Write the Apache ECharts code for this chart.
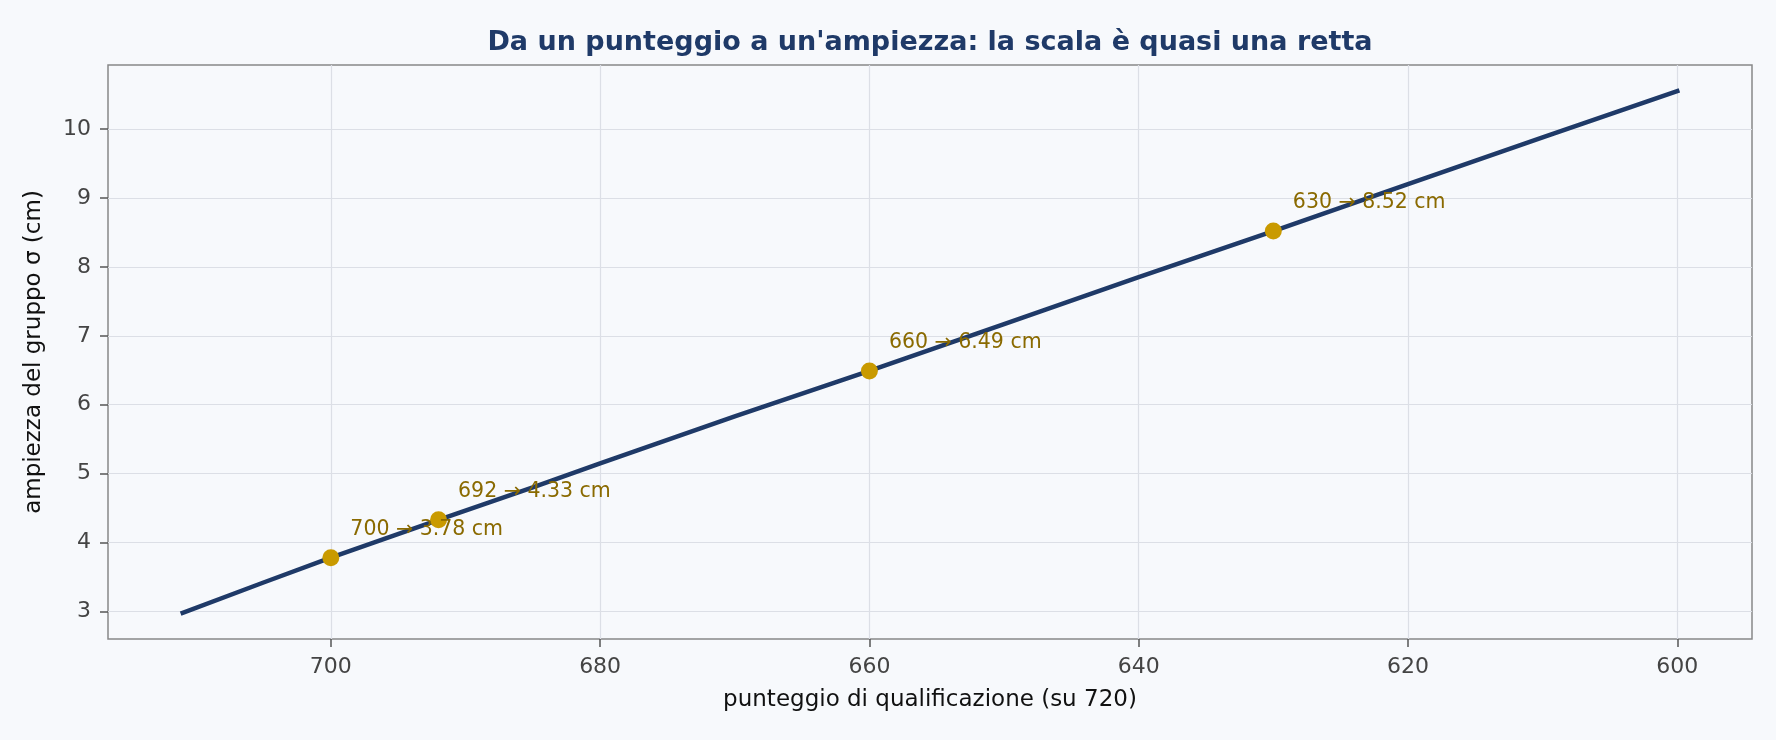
<!DOCTYPE html>
<html>
<head>
<meta charset="utf-8">
<script src="https://cdn.jsdelivr.net/npm/echarts@6/dist/echarts.min.js"></script>
<style>
  html, body { margin: 0; padding: 0; background: #f7f9fc; }
  #chart { width: 1776px; height: 740px; }
</style>
</head>
<body>
<div id="chart"></div>
<script>
// curve: qualification score -> group spread sigma (cm)
const lineScores = [711, 705, 700, 692, 685, 680, 670, 660, 650, 640, 630, 620, 610, 600];
const lineSigma = [2.98, 3.42, 3.78, 4.33, 4.80, 5.15, 5.83, 6.49, 7.17, 7.85, 8.52, 9.20, 9.88, 10.55];

// highlighted scores
const markScores = [700, 692, 660, 630];
const markSigma = [3.78, 4.33, 6.49, 8.52];

const xTicks = [700, 680, 660, 640, 620, 600];
const yTicks = [3, 4, 5, 6, 7, 8, 9, 10];

const font = 'DejaVu Sans';

const chart = echarts.init(document.getElementById('chart'));
let option = {
    backgroundColor: '#f7f9fc',
    animation: false,
    title: {
        text: "Da un punteggio a un'ampiezza: la scala è quasi una retta",
        left: 925,
        top: 24,
        textAlign: 'center',
        textStyle: { fontFamily: font, fontSize: 27, fontWeight: 'bold', color: '#1f3a68' }
    },
    grid: {
        left: 108, right: 24, top: 65, bottom: 101,
        show: true, borderColor: '#888', borderWidth: 1.5, backgroundColor: 'transparent'
    },
    xAxis: {
        type: 'value',
        inverse: true,
        min: 594.45,
        max: 716.55,
        minInterval: 20,
        maxInterval: 20,
        name: 'punteggio di qualificazione (su 720)',
        nameLocation: 'middle',
        nameGap: 50,
        nameTextStyle: { fontFamily: font, fontSize: 23, color: '#111' },
        axisLine: { show: false },
        axisTick: { show: true, length: 8, lineStyle: { color: '#555', width: 1.5 }, customValues: xTicks },
        axisLabel: { fontFamily: font, fontSize: 22, color: '#444', margin: 17, customValues: xTicks },
        splitLine: { show: true, lineStyle: { color: '#dcdfe6', width: 1.2 } }
    },
    yAxis: {
        type: 'value',
        min: 2.6,
        max: 10.93,
        minInterval: 1,
        maxInterval: 1,
        name: 'ampiezza del gruppo σ (cm)',
        nameLocation: 'middle',
        nameGap: 62,
        nameTextStyle: { fontFamily: font, fontSize: 23, color: '#111' },
        axisLine: { show: false },
        axisTick: { show: true, length: 8, lineStyle: { color: '#555', width: 1.5 }, customValues: yTicks },
        axisLabel: { fontFamily: font, fontSize: 22, color: '#444', margin: 17, customValues: yTicks },
        splitLine: { show: true, lineStyle: { color: '#dcdfe6', width: 1.2 } }
    },
    series: [
        {
            type: 'line',
            data: lineScores.map((s, i) => [s, lineSigma[i]]),
            showSymbol: false,
            symbol: 'none',
            lineStyle: { color: '#1f3a68', width: 4.5, cap: 'square' },
            z: 2
        },
        {
            type: 'scatter',
            data: markScores.map((s, i) => [s, markSigma[i]]),
            symbolSize: 17,
            itemStyle: { color: '#c99a00', opacity: 1 },
            label: {
                show: true,
                position: [28, -20],
                align: 'left',
                verticalAlign: 'middle',
                fontFamily: font,
                fontSize: 20.5,
                color: '#8a6a00',
                formatter: p => p.value[0] + ' → ' + p.value[1].toFixed(2) + ' cm'
            },
            z: 3
        }
    ]
};
chart.setOption(option);
</script>
</body>
</html>
